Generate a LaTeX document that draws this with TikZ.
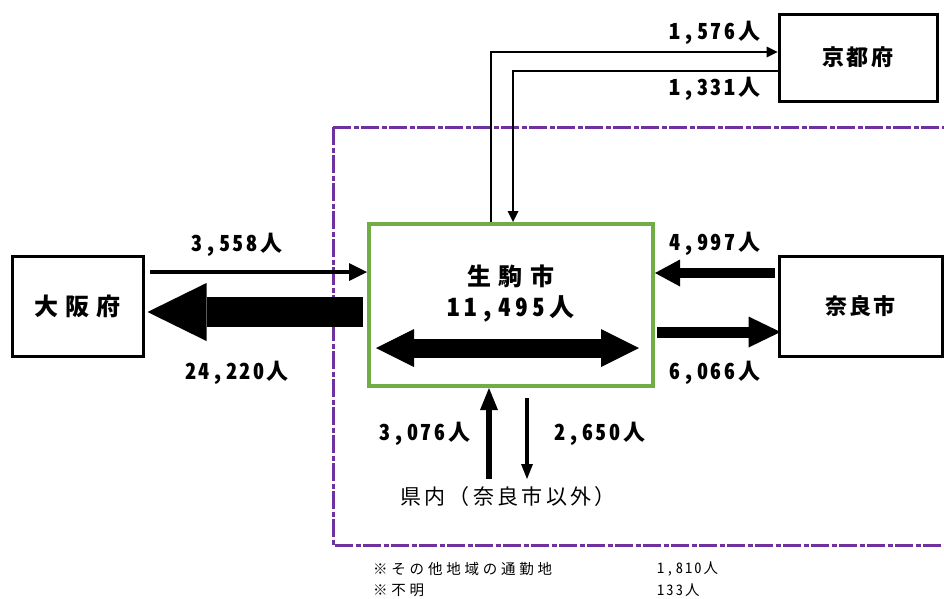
\documentclass[tikz,border=0pt]{standalone}
\usepackage{fontspec}
\usetikzlibrary{arrows.meta}
\newfontfamily\jpnum{Noto Sans CJK JP}[RawFeature=+hwid,LetterSpace=12]
\newfontfamily\jpbignum{Noto Sans CJK JP}[RawFeature=+hwid,LetterSpace=18]
\newfontfamily\jpwide{Noto Sans CJK JP}[LetterSpace=31]
\newfontfamily\jpcity{Noto Sans CJK JP}[LetterSpace=11]
\newfontfamily\jpreg{Noto Sans CJK JP}[LetterSpace=16]
\newfontfamily\jpnote{Noto Sans CJK JP}[RawFeature=+hwid,LetterSpace=26]
\newfontfamily\jpnotenum{Noto Sans CJK JP}[RawFeature=+hwid,LetterSpace=14]
\definecolor{vio}{HTML}{7030A0}
\definecolor{grn}{HTML}{70AD47}
\tikzset{
  place/.style={draw=black, line width=3pt, fill=white, inner sep=0pt},
  numlbl/.style={inner sep=0pt, font=\jpnum\bfseries\fontsize{22pt}{24pt}\selectfont},
  thinarr/.style={line width=4.5pt, -{Triangle[length=18pt,width=18pt,line width=0pt]}},
  bigarr/.style={line width=30pt, -{Triangle[length=59pt,width=58pt,line width=0pt]}},
  medinarr/.style={line width=10pt, -{Triangle[length=25pt,width=27pt,line width=0pt]}},
  medoutarr/.style={line width=11pt, -{Triangle[length=32pt,width=31pt,line width=0pt]}},
  dblarr/.style={line width=19pt, {Triangle[length=38pt,width=38pt,line width=0pt]}-{Triangle[length=38pt,width=38pt,line width=0pt]}},
  uparr/.style={line width=6pt, -{Triangle[length=22pt,width=18pt,line width=0pt]}},
  downarr/.style={line width=4pt, -{Triangle[length=15pt,width=12pt,line width=0pt]}},
  kyarr/.style={line width=2.5pt, -{Triangle[length=11pt,width=11pt,line width=0pt]}},
  notelbl/.style={inner sep=0pt, anchor=west, font=\jpnote\fontsize{14.5pt}{16pt}\selectfont},
  notenum/.style={inner sep=0pt, anchor=west, font=\jpnotenum\fontsize{14.5pt}{16pt}\selectfont}
}
\begin{document}
\begin{tikzpicture}[x=1pt,y=-1pt]
\useasboundingbox (0,0) rectangle (944,598);
% region border
\draw[vio, line width=3pt, dash pattern=on 18pt off 2.5pt on 5pt off 2.5pt] (333,127) rectangle (960,545);
% boxes
\node[place, minimum width=158pt, minimum height=87pt, font=\jpcity\bfseries\fontsize{22pt}{26pt}\selectfont] (kyoto) at (858,57.5) {京都府};
\node[place, minimum width=131pt, minimum height=100pt, font=\jpwide\bfseries\fontsize{24pt}{28pt}\selectfont] (osaka) at (77.5,306) {大阪府};
\node[place, minimum width=163pt, minimum height=100pt, font=\jpcity\bfseries\fontsize{22pt}{26pt}\selectfont] (nara) at (860.5,306) {奈良市};
\node[draw=grn, line width=4pt, minimum width=284pt, minimum height=162pt, inner sep=0pt] (ikoma) at (511,305) {};
\node[inner sep=0pt, font=\jpwide\bfseries\fontsize{24pt}{28pt}\selectfont] (ikomaname) at (511,276) {生駒市};
\node[inner sep=0pt, font=\jpbignum\bfseries\fontsize{25pt}{28pt}\selectfont] (ikomanum) at (511,309) {11,495人};
% Osaka arrows
\coordinate (o1) at (150,272);
\draw[thinarr] (o1) -- (ikoma.west |- o1);
\coordinate (o2) at (363,312);
\draw[bigarr, shorten >=3pt] (o2) -- (osaka.east |- o2);
\node[numlbl] (l3558) at (237,245) {3,558人};
\node[numlbl] (l24220) at (237,373) {24,220人};
% Nara city arrows
\coordinate (n1) at (775,273);
\draw[medinarr] (n1) -- (ikoma.east |- n1);
\coordinate (n2) at (657,332);
\draw[medoutarr, shorten >=-3pt] (n2) -- (nara.west |- n2);
\node[numlbl] (l4997) at (715,244) {4,997人};
\node[numlbl] (l6066) at (715,373) {6,066人};
% internal
\coordinate (i1) at (376,348);
\coordinate (i2) at (639,348);
\draw[dblarr] (i1) -- (i2);
% prefecture
\node[inner sep=0pt, font=\jpreg\fontsize{21pt}{24pt}\selectfont] (kennai) at (508,497) {県内（奈良市以外）};
\coordinate (u1) at (489,479);
\draw[uparr] (u1) -- (ikoma.south -| u1);
\coordinate (d1) at (527,398);
\coordinate (d2) at (527,479);
\draw[downarr] (d1) -- (d2);
\node[numlbl] (l3076) at (425,434) {3,076人};
\node[numlbl] (l2650) at (600,434) {2,650人};
% Kyoto
\coordinate (k1) at (491,52);
\draw[kyarr] (ikoma.north -| k1) |- (kyoto.west |- k1);
\coordinate (k2) at (513,71);
\draw[kyarr] (kyoto.west |- k2) -| (ikoma.north -| k2);
\node[numlbl] (l1576) at (715,33) {1,576人};
\node[numlbl] (l1331) at (715,89) {1,331人};
% notes
\node[notelbl] (n1txt) at (373,569) {※その他地域の通勤地};
\node[notenum] (n1num) at (657,569) {1,810人};
\node[notelbl] (n2txt) at (373,590) {※不明};
\node[notenum] (n2num) at (657,590) {133人};
\end{tikzpicture}
\end{document}
